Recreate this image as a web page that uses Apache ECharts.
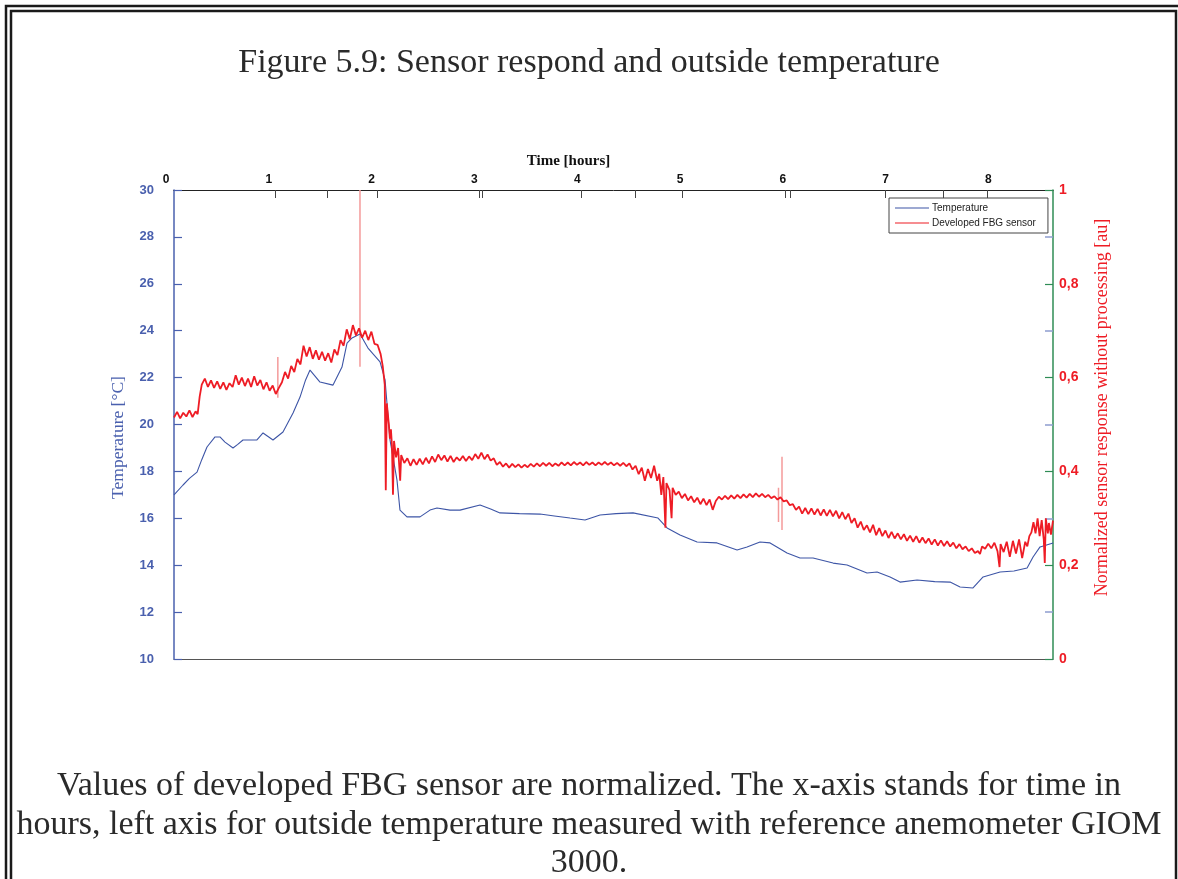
<!DOCTYPE html>
<html><head><meta charset="utf-8">
<script src="https://cdn.jsdelivr.net/npm/echarts@6/dist/echarts.min.js"></script>
<style>html,body{margin:0;padding:0;background:#fff}#c{width:1178px;height:879px}</style>
</head><body><div id="c"></div>
<script>
// ---- texts ----
const figureTitle = 'Figure 5.9: Sensor respond and outside temperature';
const captionLines = [
  'Values of developed FBG sensor are normalized. The x-axis stands for time in',
  'hours, left axis for outside temperature measured with reference anemometer GIOM',
  '3000.'
];
const legendNames = ['Temperature', 'Developed FBG sensor'];
const xAxisName = 'Time [hours]';
const leftAxisName = 'Temperature [\u00B0C]';
const rightAxisName = 'Normalized sensor response without processing [au]';

// ---- axes ----
const xLabelHours = [0, 1, 2, 3, 4, 5, 6, 7, 8];
const xTickHours = [0.989, 1.495, 1.978, 2.970, 2.996, 3.962, 4.491, 4.943, 5.946, 5.992, 6.920, 7.486, 7.915];
const tempRightTicks = [12, 16, 20, 24, 28];

// ---- data: temperature [hours, °C] ----
const temperature = [
  [0,17.0],[0.088,17.42],[0.15,17.7],[0.224,17.97],[0.27,18.5],[0.321,19.04],[0.399,19.47],[0.447,19.47],
  [0.496,19.25],[0.574,19.0],[0.62,19.15],[0.671,19.34],[0.74,19.34],[0.807,19.34],[0.866,19.64],
  [0.963,19.34],[1.06,19.68],[1.158,20.49],[1.226,21.17],[1.28,21.9],[1.323,22.32],[1.420,21.81],
  [1.547,21.68],[1.634,22.45],[1.683,23.47],[1.732,23.69],[1.809,23.86],[1.887,23.26],[2.004,22.67],
  [2.053,21.9],[2.101,19.34],[2.169,17.63],[2.198,16.35],[2.266,16.06],[2.393,16.06],[2.49,16.35],
  [2.558,16.44],[2.685,16.35],[2.782,16.35],[2.977,16.57],[3.08,16.4],[3.171,16.23],[3.36,16.2],
  [3.560,16.18],[3.70,16.1],[3.852,16.01],[3.998,15.93],[4.144,16.14],[4.30,16.2],[4.465,16.23],
  [4.708,16.01],[4.796,15.59],[4.922,15.29],[5.088,14.99],[5.282,14.95],[5.477,14.65],[5.574,14.78],
  [5.700,14.99],[5.798,14.95],[5.963,14.52],[6.089,14.31],[6.216,14.31],[6.411,14.09],[6.547,14.01],
  [6.741,13.67],[6.839,13.71],[6.965,13.5],[7.062,13.28],[7.228,13.37],[7.40,13.3],[7.549,13.28],
  [7.646,13.07],[7.772,13.03],[7.870,13.5],[8.035,13.71],[8.17,13.75],[8.298,13.88],[8.356,14.35],
  [8.424,14.78],[8.551,14.95]
];

// ---- data: developed FBG sensor [hours, normalized] ----
const fbgSensor = [
  [0,0.515],[0.03,0.527],[0.06,0.513],[0.09,0.525],[0.12,0.517],[0.15,0.530],[0.18,0.516],[0.21,0.528],
  [0.23,0.522],[0.25,0.560],[0.27,0.585],[0.30,0.598],[0.33,0.580],[0.36,0.594],[0.39,0.578],[0.42,0.592],
  [0.45,0.576],[0.48,0.590],[0.51,0.574],[0.54,0.588],[0.57,0.580],[0.60,0.605],[0.63,0.585],[0.66,0.600],
  [0.69,0.582],[0.72,0.598],[0.75,0.580],[0.78,0.603],[0.81,0.583],[0.84,0.595],[0.87,0.575],[0.90,0.590],
  [0.93,0.572],[0.96,0.583],[0.99,0.565],[1.02,0.578],[1.05,0.590],[1.08,0.612],[1.11,0.598],[1.14,0.625],
  [1.17,0.612],[1.20,0.640],[1.23,0.628],[1.26,0.668],[1.29,0.645],[1.32,0.665],[1.35,0.640],[1.38,0.658],
  [1.41,0.638],[1.44,0.655],[1.47,0.636],[1.50,0.652],[1.53,0.632],[1.56,0.660],[1.59,0.648],[1.62,0.680],
  [1.65,0.668],[1.68,0.703],[1.71,0.682],[1.74,0.712],[1.77,0.690],[1.80,0.705],[1.83,0.685],[1.86,0.700],
  [1.89,0.680],[1.92,0.698],[1.95,0.672],[1.98,0.670],[2.01,0.650],[2.03,0.625],[2.05,0.585],[2.06,0.360],
  [2.07,0.545],[2.09,0.500],[2.10,0.470],[2.11,0.490],[2.12,0.455],[2.13,0.350],[2.14,0.465],[2.16,0.430],
  [2.18,0.450],[2.20,0.380],[2.21,0.435],[2.24,0.418],[2.27,0.428],[2.30,0.412],[2.33,0.426],[2.36,0.414],
  [2.39,0.427],[2.42,0.415],[2.45,0.429],[2.48,0.417],[2.51,0.432],[2.54,0.420],[2.57,0.436],[2.60,0.424],
  [2.63,0.434],[2.66,0.421],[2.69,0.433],[2.72,0.420],[2.75,0.430],[2.78,0.423],[2.81,0.433],[2.84,0.422],
  [2.87,0.432],[2.90,0.424],[2.93,0.437],[2.96,0.427],[2.99,0.440],[3.02,0.426],[3.05,0.436],[3.08,0.423],
  [3.11,0.428],[3.14,0.414],[3.17,0.420],[3.20,0.410],[3.23,0.417],[3.26,0.408],[3.29,0.416],[3.32,0.409],
  [3.35,0.415],[3.38,0.408],[3.41,0.414],[3.44,0.409],[3.47,0.416],[3.50,0.410],[3.53,0.417],[3.56,0.411],
  [3.59,0.418],[3.62,0.412],[3.65,0.418],[3.68,0.411],[3.71,0.417],[3.74,0.412],[3.77,0.419],[3.80,0.413],
  [3.83,0.419],[3.86,0.413],[3.89,0.420],[3.92,0.414],[3.95,0.419],[3.98,0.413],[4.01,0.420],[4.04,0.414],
  [4.07,0.419],[4.10,0.413],[4.13,0.419],[4.16,0.414],[4.19,0.420],[4.22,0.414],[4.25,0.419],[4.28,0.413],
  [4.31,0.418],[4.34,0.412],[4.37,0.418],[4.40,0.411],[4.43,0.417],[4.46,0.404],[4.49,0.412],[4.52,0.394],
  [4.55,0.408],[4.58,0.380],[4.61,0.405],[4.64,0.386],[4.67,0.412],[4.70,0.380],[4.72,0.395],[4.74,0.350],
  [4.76,0.388],[4.78,0.280],[4.79,0.375],[4.82,0.360],[4.84,0.300],[4.85,0.365],[4.88,0.350],[4.91,0.357],
  [4.94,0.343],[4.97,0.352],[5.00,0.338],[5.03,0.347],[5.06,0.334],[5.09,0.344],[5.12,0.330],[5.15,0.342],
  [5.18,0.328],[5.21,0.340],[5.24,0.318],[5.27,0.337],[5.30,0.346],[5.33,0.340],[5.36,0.348],[5.39,0.341],
  [5.42,0.349],[5.45,0.342],[5.48,0.350],[5.51,0.343],[5.54,0.351],[5.57,0.344],[5.60,0.352],[5.63,0.345],
  [5.66,0.353],[5.69,0.346],[5.72,0.352],[5.75,0.345],[5.78,0.350],[5.81,0.343],[5.84,0.347],[5.87,0.340],
  [5.90,0.345],[5.93,0.336],[5.96,0.338],[5.99,0.328],[6.02,0.330],[6.05,0.318],[6.08,0.325],[6.11,0.310],
  [6.14,0.322],[6.17,0.309],[6.20,0.321],[6.23,0.308],[6.26,0.320],[6.29,0.306],[6.32,0.319],[6.35,0.305],
  [6.38,0.318],[6.41,0.304],[6.44,0.316],[6.47,0.300],[6.50,0.313],[6.53,0.298],[6.56,0.310],[6.59,0.290],
  [6.62,0.300],[6.65,0.280],[6.68,0.293],[6.71,0.275],[6.74,0.285],[6.77,0.270],[6.80,0.286],[6.83,0.264],
  [6.86,0.279],[6.89,0.262],[6.92,0.274],[6.95,0.258],[6.98,0.271],[7.01,0.257],[7.04,0.268],[7.07,0.255],
  [7.10,0.266],[7.13,0.252],[7.16,0.263],[7.19,0.250],[7.22,0.262],[7.25,0.248],[7.28,0.259],[7.31,0.247],
  [7.34,0.257],[7.37,0.244],[7.40,0.255],[7.43,0.242],[7.46,0.253],[7.49,0.241],[7.52,0.251],[7.55,0.240],
  [7.58,0.248],[7.61,0.236],[7.64,0.245],[7.67,0.234],[7.70,0.240],[7.73,0.230],[7.76,0.236],[7.79,0.226],
  [7.82,0.230],[7.84,0.224],[7.86,0.240],[7.89,0.235],[7.92,0.246],[7.95,0.236],[7.98,0.248],[8.01,0.230],
  [8.03,0.196],[8.04,0.245],[8.07,0.228],[8.10,0.250],[8.13,0.218],[8.16,0.252],[8.19,0.225],[8.22,0.255],
  [8.25,0.215],[8.28,0.250],[8.30,0.240],[8.32,0.262],[8.34,0.270],[8.36,0.292],[8.38,0.268],[8.40,0.300],
  [8.42,0.262],[8.44,0.296],[8.46,0.255],[8.47,0.205],[8.48,0.300],[8.50,0.268],[8.51,0.290],[8.53,0.265],
  [8.55,0.295]
];
// isolated single-sample spikes of the FBG signal (faint)
const fbgSpikes = [
  [1.01,0.644],[1.01,0.557],null,
  [1.809,1.0],[1.809,0.623],null,
  [5.88,0.365],[5.88,0.292],null,
  [5.914,0.431],[5.914,0.275]
];

const BLUE = '#3d55a6', LBLUE = '#4a60ae', RED = '#ee1c25', GREEN = '#2f8c55';
const serif = '"Liberation Serif", "DejaVu Serif", serif';
const sans = '"Liberation Sans", Arial, sans-serif';
const XMAX = 8.55;

const chart = echarts.init(document.getElementById('c'), null, {renderer: 'canvas'});
const titleStyle = {fontFamily: serif, fontSize: 34, fontWeight: 'normal', color: '#2a2a2a'};
chart.setOption({
  backgroundColor: '#fff',
  animation: false,
  title: [
    {text: figureTitle, left: 'center', top: 46, padding: 0, textStyle: titleStyle},
    {text: captionLines[0], left: 'center', top: 769, padding: 0, textStyle: titleStyle},
    {text: captionLines[1], left: 'center', top: 808, padding: 0, textStyle: titleStyle},
    {text: captionLines[2], left: 'center', top: 846, padding: 0, textStyle: titleStyle}
  ],
  graphic: [
    {type: 'rect', silent: true, shape: {x: 6, y: 6, width: 1180, height: 1000}, style: {fill: 'none', stroke: '#1a1a1a', lineWidth: 2.5}},
    {type: 'rect', silent: true, shape: {x: 11, y: 11, width: 1165, height: 1000}, style: {fill: 'none', stroke: '#1a1a1a', lineWidth: 2.5}}
  ],
  legend: {
    data: legendNames, orient: 'vertical', left: 889, top: 198,
    backgroundColor: '#fff', borderColor: '#444', borderWidth: 1, borderRadius: 0,
    padding: [5, 12, 5, 6], itemGap: 5, itemWidth: 34, itemHeight: 1.2, icon: 'rect',
    textStyle: {fontFamily: sans, fontSize: 10, color: '#222', padding: [0, 0, 0, -2]}
  },
  grid: {left: 174, top: 190, width: 879, height: 469, outerBoundsMode: 'none'},
  xAxis: [
    {
      type: 'value', position: 'top', min: 0, max: XMAX,
      name: xAxisName, nameLocation: 'middle', nameGap: 18,
      nameTextStyle: {fontFamily: serif, fontSize: 15, fontWeight: 'bold', color: '#111', padding: [0, 90, 0, 0]},
      axisLine: {show: true, onZero: false, lineStyle: {color: '#222', width: 1}},
      axisTick: {show: true, inside: true, length: 8, customValues: xTickHours, lineStyle: {color: '#444', width: 1}},
      axisLabel: {show: true, customValues: xLabelHours, margin: 4, fontFamily: sans, fontSize: 12, fontWeight: 'bold', color: '#111', padding: [0, 16, 0, 0]},
      splitLine: {show: false}
    },
    {
      type: 'value', position: 'bottom', min: 0, max: XMAX,
      axisLine: {show: true, onZero: false, lineStyle: {color: '#555', width: 1.2}},
      axisTick: {show: false}, axisLabel: {show: false}, splitLine: {show: false}
    }
  ],
  yAxis: [
    {
      type: 'value', position: 'left', min: 10, max: 30, interval: 2,
      name: leftAxisName, nameLocation: 'middle', nameGap: 47,
      nameTextStyle: {fontFamily: serif, fontSize: 17.5, color: LBLUE, padding: [0, 26, 0, 0]},
      axisLine: {show: true, onZero: false, lineStyle: {color: LBLUE, width: 1.5}},
      axisTick: {show: true, inside: true, length: 8, lineStyle: {color: LBLUE, width: 1.2}},
      axisLabel: {margin: 20, fontFamily: sans, fontSize: 13, fontWeight: 'bold', color: LBLUE},
      splitLine: {show: false}
    },
    {
      type: 'value', position: 'right', min: 0, max: 1, interval: 0.2,
      name: rightAxisName, nameLocation: 'middle', nameGap: 40,
      nameTextStyle: {fontFamily: serif, fontSize: 18, color: RED, padding: [0, 0, 0, 34]},
      axisLine: {show: true, onZero: false, lineStyle: {color: GREEN, width: 1.5}},
      axisTick: {show: true, inside: true, length: 8, lineStyle: {color: GREEN, width: 1.2}},
      axisLabel: {margin: 6, fontFamily: sans, fontSize: 14, fontWeight: 'bold', color: RED,
        formatter: v => (v === 0 ? '0' : v === 1 ? '1' : v.toFixed(1).replace('.', ','))},
      splitLine: {show: false}
    },
    {
      type: 'value', position: 'right', min: 10, max: 30,
      axisLine: {show: false, onZero: false},
      axisTick: {show: true, inside: true, length: 8, customValues: tempRightTicks, lineStyle: {color: '#8e9dd0', width: 1.5}},
      axisLabel: {show: false}, splitLine: {show: false}
    }
  ],
  series: [
    {
      name: 'spikes', type: 'line', xAxisIndex: 0, yAxisIndex: 1, data: fbgSpikes,
      showSymbol: false, symbol: 'none', connectNulls: false, silent: true,
      lineStyle: {color: '#f49a9a', width: 1.5}, z: 1
    },
    {
      name: legendNames[0], type: 'line', xAxisIndex: 0, yAxisIndex: 0, data: temperature,
      showSymbol: false, symbol: 'none', color: BLUE, lineStyle: {color: BLUE, width: 1.1}, z: 2
    },
    {
      name: legendNames[1], type: 'line', xAxisIndex: 0, yAxisIndex: 1, data: fbgSensor,
      showSymbol: false, symbol: 'none', color: RED, lineStyle: {color: RED, width: 1.8}, z: 3
    }
  ]
});
</script></body></html>
